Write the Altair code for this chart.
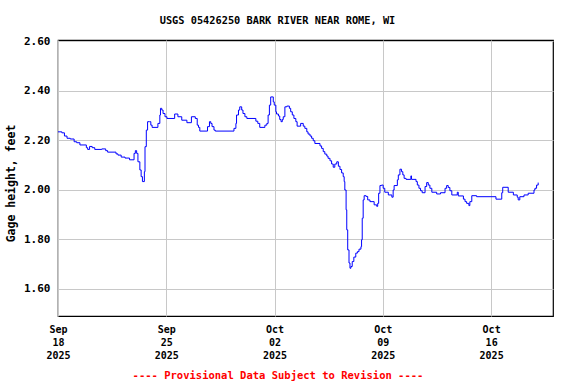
import altair as alt
import pandas as pd

times = [
    "2025-09-18 00:00", "2025-09-18 06:00", "2025-09-18 10:00", "2025-09-18 14:00", "2025-09-18 19:00",
    "2025-09-19 01:00", "2025-09-19 05:00", "2025-09-19 10:00", "2025-09-19 20:00", "2025-09-19 22:00",
    "2025-09-20 01:00", "2025-09-20 05:00", "2025-09-20 09:00", "2025-09-20 20:00", "2025-09-21 02:00",
    "2025-09-21 05:00", "2025-09-21 18:00", "2025-09-21 21:00", "2025-09-22 02:00", "2025-09-22 08:00",
    "2025-09-22 15:00", "2025-09-22 22:00", "2025-09-23 00:00", "2025-09-23 02:00", "2025-09-23 04:00",
    "2025-09-23 07:00", "2025-09-23 09:00", "2025-09-23 11:00", "2025-09-23 14:00", "2025-09-23 15:00",
    "2025-09-23 17:00", "2025-09-23 19:00", "2025-09-23 22:00", "2025-09-24 00:00", "2025-09-24 02:00",
    "2025-09-24 11:00", "2025-09-24 14:00", "2025-09-24 15:00", "2025-09-24 17:00", "2025-09-24 19:00",
    "2025-09-24 22:00", "2025-09-25 01:00", "2025-09-25 13:00", "2025-09-25 18:00", "2025-09-26 00:00",
    "2025-09-26 08:00", "2025-09-26 15:00", "2025-09-26 21:00", "2025-09-27 00:00", "2025-09-27 02:00",
    "2025-09-27 04:00", "2025-09-27 16:00", "2025-09-27 19:00", "2025-09-27 21:00", "2025-09-27 23:00",
    "2025-09-28 02:00", "2025-09-28 04:00", "2025-09-29 09:00", "2025-09-29 12:00", "2025-09-29 13:00",
    "2025-09-29 16:00", "2025-09-29 18:00", "2025-09-29 21:00", "2025-09-29 23:00", "2025-09-30 02:00",
    "2025-09-30 05:00", "2025-09-30 19:00", "2025-09-30 22:00", "2025-10-01 01:00", "2025-10-01 09:00",
    "2025-10-01 12:00", "2025-10-01 14:00", "2025-10-01 16:00", "2025-10-01 18:00", "2025-10-01 22:00",
    "2025-10-01 23:30", "2025-10-02 02:00", "2025-10-02 03:00", "2025-10-02 06:00", "2025-10-02 08:00",
    "2025-10-02 10:00", "2025-10-02 12:00", "2025-10-02 13:30", "2025-10-02 16:00", "2025-10-02 19:00",
    "2025-10-02 23:00", "2025-10-03 01:00", "2025-10-03 03:30", "2025-10-03 06:00", "2025-10-03 09:00",
    "2025-10-03 11:00", "2025-10-03 16:30", "2025-10-03 20:30", "2025-10-03 23:00", "2025-10-04 02:00",
    "2025-10-04 04:00", "2025-10-04 07:00", "2025-10-04 09:30", "2025-10-04 12:00", "2025-10-04 14:30",
    "2025-10-04 22:30", "2025-10-05 01:00", "2025-10-05 03:30", "2025-10-05 06:00", "2025-10-05 09:00",
    "2025-10-05 11:00", "2025-10-05 14:00", "2025-10-05 16:30", "2025-10-05 19:00", "2025-10-05 21:30",
    "2025-10-06 00:30", "2025-10-06 03:00", "2025-10-06 05:30", "2025-10-06 08:00", "2025-10-06 10:30",
    "2025-10-06 12:00", "2025-10-06 13:00", "2025-10-06 15:00", "2025-10-06 16:00", "2025-10-06 17:30",
    "2025-10-06 19:30", "2025-10-06 21:00", "2025-10-06 22:30", "2025-10-07 00:30", "2025-10-07 03:00",
    "2025-10-07 06:00", "2025-10-07 08:30", "2025-10-07 11:00", "2025-10-07 14:00", "2025-10-07 15:00",
    "2025-10-07 16:00", "2025-10-07 17:30", "2025-10-07 19:00", "2025-10-07 22:00", "2025-10-08 00:30",
    "2025-10-08 04:00", "2025-10-08 10:30", "2025-10-08 14:30", "2025-10-08 16:00", "2025-10-08 17:30",
    "2025-10-08 19:30", "2025-10-08 22:00", "2025-10-09 00:30", "2025-10-09 03:00", "2025-10-09 08:30",
    "2025-10-09 14:00", "2025-10-09 16:00", "2025-10-09 17:30", "2025-10-09 22:30", "2025-10-10 00:00",
    "2025-10-10 02:30", "2025-10-10 05:00", "2025-10-10 07:00", "2025-10-10 09:00", "2025-10-10 12:00",
    "2025-10-10 19:30", "2025-10-10 20:30", "2025-10-11 03:30", "2025-10-11 05:30", "2025-10-11 08:00",
    "2025-10-11 10:30", "2025-10-11 13:00", "2025-10-11 17:30", "2025-10-11 20:00", "2025-10-11 22:30",
    "2025-10-12 01:00", "2025-10-12 04:00", "2025-10-12 11:30", "2025-10-12 17:30", "2025-10-13 00:30",
    "2025-10-13 03:00", "2025-10-13 05:30", "2025-10-13 08:00", "2025-10-13 11:00", "2025-10-13 19:30",
    "2025-10-13 21:00", "2025-10-14 05:00", "2025-10-14 07:30", "2025-10-14 10:00", "2025-10-14 13:30",
    "2025-10-14 15:00", "2025-10-14 18:00", "2025-10-15 01:30", "2025-10-16 07:30", "2025-10-16 16:30",
    "2025-10-16 18:00", "2025-10-17 02:30", "2025-10-17 10:30", "2025-10-17 16:30", "2025-10-17 18:00",
    "2025-10-17 20:30", "2025-10-18 03:00", "2025-10-18 09:30", "2025-10-18 18:30", "2025-10-18 20:00",
    "2025-10-18 22:30", "2025-10-19 01:00",
]

gage_height = [
    2.234, 2.230, 2.217, 2.208, 2.205,
    2.194, 2.190, 2.181, 2.170, 2.163,
    2.175, 2.170, 2.163, 2.165, 2.158,
    2.152, 2.145, 2.140, 2.132, 2.128,
    2.121, 2.147, 2.158, 2.147, 2.113,
    2.080, 2.053, 2.033, 2.073, 2.174,
    2.241, 2.275, 2.275, 2.261, 2.252,
    2.268, 2.302, 2.329, 2.322, 2.308,
    2.295, 2.288, 2.306, 2.295, 2.281,
    2.271, 2.295, 2.288, 2.261, 2.252,
    2.237, 2.255, 2.275, 2.268, 2.255,
    2.241, 2.237, 2.248, 2.268, 2.302,
    2.322, 2.335, 2.322, 2.308, 2.295,
    2.288, 2.277, 2.268, 2.252, 2.261,
    2.268, 2.302, 2.342, 2.375, 2.355,
    2.342, 2.315, 2.306, 2.298, 2.284,
    2.275, 2.284, 2.295, 2.335, 2.338,
    2.329, 2.315, 2.302, 2.288, 2.275,
    2.257, 2.268, 2.257, 2.248, 2.234,
    2.225, 2.217, 2.208, 2.198, 2.187,
    2.177, 2.167, 2.154, 2.144, 2.136,
    2.127, 2.117, 2.104, 2.091, 2.104,
    2.113, 2.095, 2.082, 2.068, 2.053,
    2.033, 1.999, 1.919, 1.838, 1.757,
    1.704, 1.683, 1.690, 1.710, 1.728,
    1.744, 1.750, 1.760, 1.770, 1.798,
    1.885, 1.959, 1.976, 1.973, 1.959,
    1.952, 1.939, 1.933, 1.945, 1.986,
    2.017, 2.019, 2.006, 1.990, 1.979,
    1.970, 1.999, 2.017, 2.040, 2.060,
    2.083, 2.073, 2.060, 2.046, 2.042,
    2.056, 2.042, 2.033, 2.019, 2.006,
    1.996, 1.988, 2.013, 2.029, 2.019,
    2.006, 1.990, 1.983, 1.988, 2.006,
    2.017, 2.009, 1.996, 1.979, 1.990,
    1.975, 1.962, 1.952, 1.945, 1.936,
    1.952, 1.976, 1.972, 1.962, 1.988,
    2.010, 1.990, 1.979, 1.970, 1.959,
    1.972, 1.979, 1.986, 1.999, 2.006,
    2.019, 2.029,
]

y_ticks = [1.6, 1.8, 2.0, 2.2, 2.4, 2.6]
x_tick_dates = [(2025, 9, 18), (2025, 9, 25), (2025, 10, 2), (2025, 10, 9), (2025, 10, 16)]

df = pd.DataFrame({"time": times, "gage": gage_height})

FONT = "DejaVu Sans Mono"

x_axis = alt.Axis(
    values=[alt.DateTime(year=y, month=m, date=d) for (y, m, d) in x_tick_dates],
    labelExpr="[timeFormat(datum.value, '%b'), timeFormat(datum.value, '%d'), timeFormat(datum.value, '%Y')]",
    grid=True, gridColor="#c8c8c8", gridWidth=1,
    ticks=False, domain=False,
    labelPadding=8, labelLineHeight=13, labelFont=FONT, labelFontWeight="bold",
    labelFontSize=10, labelColor="black", labelFlush=False, labelOverlap=False,
    labelAlign="center", labelBaseline="top",
    title="---- Provisional Data Subject to Revision ----",
    titleColor="#ff0000", titleFont=FONT, titleFontSize=10.5, titleFontWeight="bold",
    titleX=219.5, titleY=59, titleBaseline="middle", titleAlign="center",
)

y_axis = alt.Axis(
    values=y_ticks, format=".2f",
    grid=True, gridColor="#c8c8c8", gridWidth=1,
    ticks=False, domain=False,
    labelPadding=8, labelFont=FONT, labelFontWeight="bold", labelFontSize=11,
    labelColor="black",
    title="Gage height, feet", titleFont=FONT, titleFontSize=11.5, titleFontWeight="bold",
    titleColor="black", titleX=-46.7, titleY=143, titleAngle=270,
    titleBaseline="middle", titleAlign="center",
)

chart = alt.Chart(df).mark_line(
    color="#0000ff", strokeWidth=1, interpolate="step-after", clip=True
).encode(
    x=alt.X("time:T", axis=x_axis,
            scale=alt.Scale(domain=[alt.DateTime(year=2025, month=9, date=18),
                                    alt.DateTime(year=2025, month=10, date=20)])),
    y=alt.Y("gage:Q", axis=y_axis, scale=alt.Scale(domain=[1.49, 2.605], nice=False, zero=False)),
).properties(
    width=495, height=276,
    title=alt.TitleParams(
        "USGS 05426250 BARK RIVER NEAR ROME, WI",
        font=FONT, fontSize=10.3, fontWeight="bold", color="black",
        anchor="middle", dx=-28, dy=16, offset=15, baseline="bottom",
    ),
    autosize=alt.AutoSizeParams(type="none"),
    padding={"left": 58, "top": 40, "right": 23, "bottom": 68},
    background="white",
).configure_view(
    stroke="black", strokeWidth=1.2
)

chart.save("out.html", embed_options={"renderer": "svg", "actions": False})
